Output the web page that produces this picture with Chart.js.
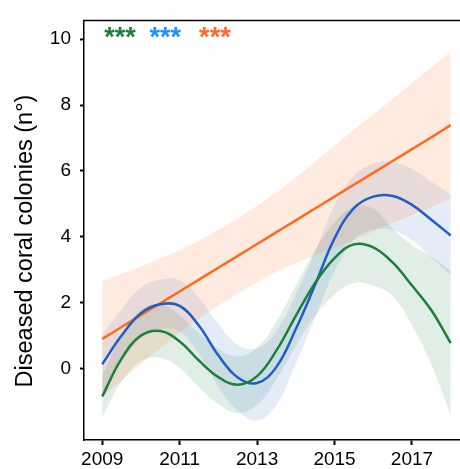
<!DOCTYPE html>
<html>
<head>
<meta charset="utf-8">
<script src="https://cdn.jsdelivr.net/npm/chart.js@4/dist/chart.umd.min.js"></script>
<style>
  html, body { margin: 0; padding: 0; background: #fff; }
  #wrap { width: 460px; height: 469px; }
</style>
</head>
<body>
<div id="wrap"><canvas id="chart" width="460" height="469"></canvas></div>
<script>
// years sampled every half year
const years = [2009, 2009.5, 2010, 2010.5, 2011, 2011.5, 2012, 2012.5, 2013, 2013.5,
               2014, 2014.5, 2015, 2015.5, 2016, 2016.5, 2017, 2017.5, 2018];

// green series
const greenFit   = [-0.85, 0.3, 1.0, 1.14, 0.82, 0.24, -0.26, -0.49, -0.23, 0.55, 1.6, 2.6, 3.35, 3.77, 3.68, 3.22, 2.52, 1.77, 0.77];
const greenUpper = [-0.23, 1.0, 1.78, 1.95, 1.62, 1.07, 0.6, 0.37, 0.64, 1.43, 2.52, 3.6, 4.45, 4.92, 4.85, 4.25, 3.75, 3.4, 2.97];
const greenLower = [-1.47, -0.4, 0.22, 0.33, 0.02, -0.57, -1.08, -1.35, -1.1, -0.33, 0.68, 1.6, 2.25, 2.6, 2.52, 2.2, 1.32, 0.12, -1.42];

// blue series
const blueFit   = [0.13, 1.0, 1.68, 1.95, 1.9, 1.3, 0.4, -0.27, -0.44, 0.05, 1.2, 2.55, 3.95, 4.87, 5.22, 5.24, 4.97, 4.52, 4.04];
const blueUpper = [1.0, 1.8, 2.45, 2.7, 2.68, 2.15, 1.35, 0.72, 0.62, 1.15, 2.25, 3.55, 4.95, 5.85, 6.22, 6.27, 6.05, 5.67, 5.28];
const blueLower = [-0.75, 0.2, 0.92, 1.2, 1.12, 0.45, -0.55, -1.28, -1.58, -1.1, 0.15, 1.55, 2.95, 3.9, 4.22, 4.2, 3.9, 3.37, 2.83];

// orange series (linear trend)
const orangeFit   = [0.9, 1.26, 1.62, 1.98, 2.34, 2.7, 3.06, 3.42, 3.78, 4.14, 4.5, 4.86, 5.22, 5.58, 5.94, 6.3, 6.66, 7.02, 7.39];
const orangeUpper = [2.67, 2.88, 3.1, 3.34, 3.6, 3.89, 4.21, 4.56, 4.94, 5.35, 5.8, 6.28, 6.77, 7.25, 7.71, 8.18, 8.66, 9.14, 9.62];
const orangeLower = [-0.87, -0.36, 0.14, 0.62, 1.08, 1.51, 1.91, 2.28, 2.62, 2.93, 3.2, 3.44, 3.67, 3.91, 4.17, 4.42, 4.66, 4.9, 5.16];

const xTicks = [2009, 2011, 2013, 2015, 2017];
const yTicks = [0, 2, 4, 6, 8, 10];

// significance stars
const starLabels = ['***', '***', '***'];
const starX = [2009.46, 2010.63, 2011.91];
const starY = 10;

const FONT = '"Liberation Sans", Arial, sans-serif';
const GREEN = '#1b7f3b';
const BLUE = '#1f5fc4';
const ORANGE = '#ff6a1f';
const starColors = ['#1b7f3b', '#1e90ff', '#ff6a2a'];

function pts(arr) {
    return years.map((yr, i) => ({ x: yr, y: arr[i] }));
}

function band(upper, lower, color) {
    return [
        { data: pts(upper), borderWidth: 0, pointRadius: 0, tension: 0.4,
          fill: '+1', backgroundColor: color, order: 2 },
        { data: pts(lower), borderWidth: 0, pointRadius: 0, tension: 0.4,
          fill: false, order: 2 }
    ];
}

function fitLine(values, color) {
    return { data: pts(values), borderColor: color, borderWidth: 2.5, pointRadius: 0,
             tension: 0.4, fill: false, order: 0 };
}

const extras = {
    id: 'extras',
    afterDraw(chart) {
        const ctx = chart.ctx;
        const area = chart.chartArea;
        const xs = chart.scales.x, ys = chart.scales.y;
        ctx.save();
        // top frame line
        ctx.strokeStyle = '#000';
        ctx.lineWidth = 1.5;
        ctx.beginPath();
        ctx.moveTo(area.left - 0.75, area.top);
        ctx.lineTo(460, area.top);
        ctx.stroke();
        // stars
        ctx.font = 'bold 27px ' + FONT;
        ctx.textAlign = 'center';
        ctx.textBaseline = 'middle';
        starLabels.forEach((s, i) => {
            ctx.fillStyle = starColors[i];
            ctx.fillText(s, xs.getPixelForValue(starX[i]), ys.getPixelForValue(starY) - 1);
        });
        // y title
        ctx.fillStyle = '#000';
        ctx.font = '23.5px ' + FONT;
        ctx.translate(26, 241);
        ctx.rotate(-Math.PI / 2);
        ctx.fillText('Diseased coral colonies (n°)', 0, 0);
        ctx.restore();
    }
};

new Chart(document.getElementById('chart'), {
    type: 'line',
    data: {
        datasets: [
            fitLine(greenFit, GREEN),
            fitLine(blueFit, BLUE),
            fitLine(orangeFit, ORANGE),
            ...band(orangeUpper, orangeLower, 'rgba(255,106,31,0.14)'),
            ...band(blueUpper, blueLower, 'rgba(31,95,196,0.12)'),
            ...band(greenUpper, greenLower, 'rgba(27,127,59,0.13)')
        ]
    },
    options: {
        responsive: false,
        animation: false,
        layout: { padding: { top: 15, right: 0, left: 0, bottom: 0 } },
        plugins: { legend: { display: false }, tooltip: { enabled: false } },
        scales: {
            x: {
                type: 'linear',
                min: 2008.53,
                max: 2018.24,
                afterBuildTicks: (scale) => { scale.ticks = xTicks.map(v => ({ value: v })); },
                afterFit: (scale) => { scale.height = 29; },
                border: { color: '#000', width: 1.5 },
                grid: { drawOnChartArea: false, tickLength: 5, tickWidth: 2, tickColor: '#000' },
                ticks: { color: '#000', padding: 3, maxRotation: 0,
                         font: { family: FONT, size: 19 }, callback: v => String(v) }
            },
            y: {
                min: -2.17,
                max: 10.57,
                afterBuildTicks: (scale) => { scale.ticks = yTicks.map(v => ({ value: v })); },
                afterFit: (scale) => { scale.width = 84; },
                border: { color: '#000', width: 1.5 },
                grid: { drawOnChartArea: false, tickLength: 4, tickWidth: 2, tickColor: '#000' },
                ticks: { color: '#000', padding: 9, font: { family: FONT, size: 19 } }
            }
        }
    },
    plugins: [extras]
});
</script>
</body>
</html>
